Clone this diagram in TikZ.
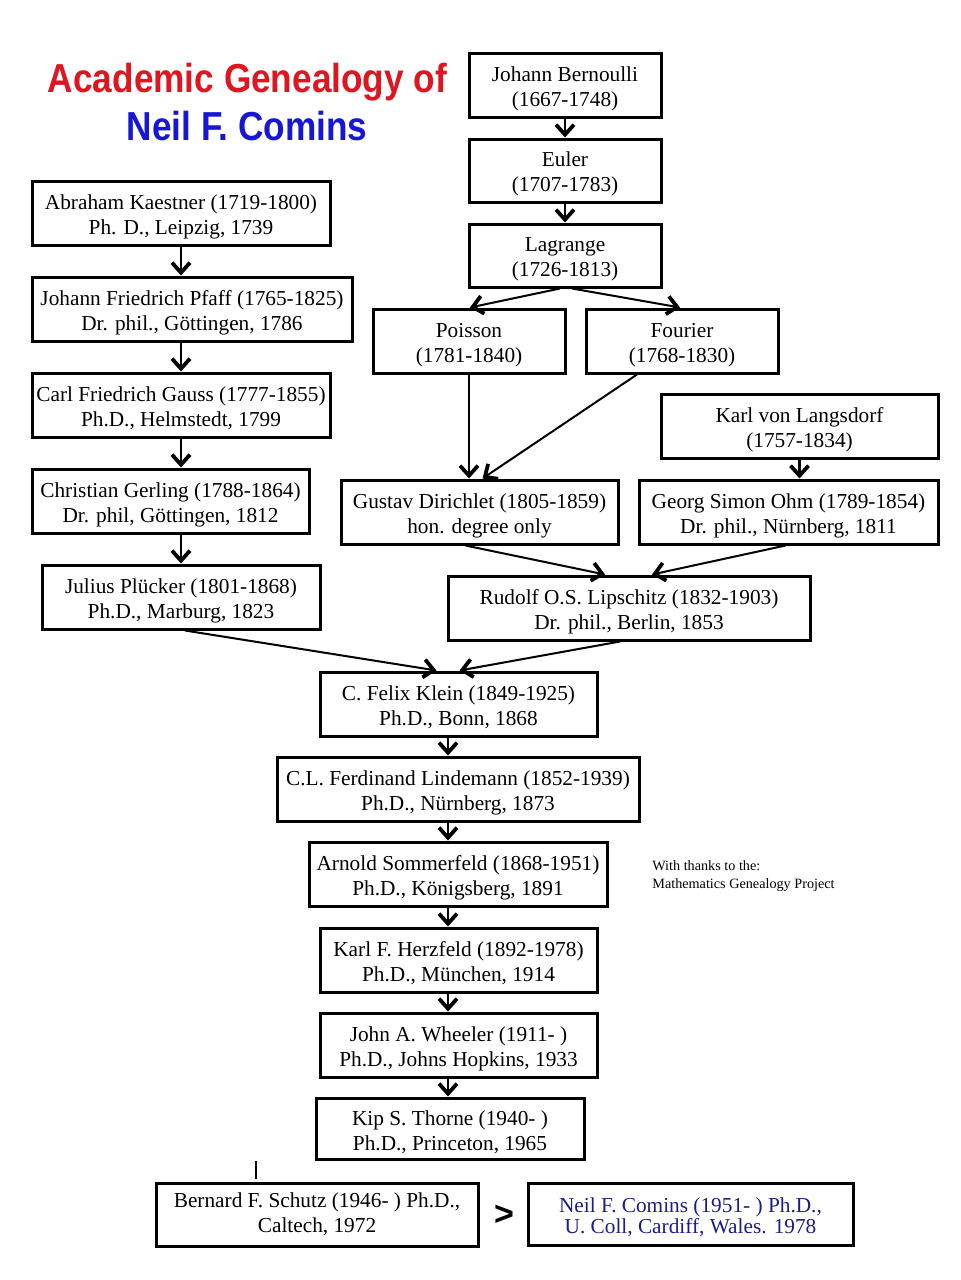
\documentclass[tikz,border=0pt]{standalone}
\usepackage{fontspec}
\setmainfont{Liberation Serif}
\newfontfamily\titlefont{Liberation Sans}
\usetikzlibrary{arrows.meta,calc}
\definecolor{titlered}{RGB}{222,22,32}
\definecolor{titleblue}{RGB}{22,22,212}
\definecolor{navy}{RGB}{28,28,140}
\newcommand\twoline[2]{\rule{0pt}{11pt}#1\\#2}
\begin{document}
\begin{tikzpicture}[x=0.5pt,y=-0.5pt,
  box/.style={draw, line width=1.5pt, align=center, inner sep=0pt,
    font=\fontsize{10.65}{12.5}\selectfont, minimum height=32pt},
  arr/.style={-{Straight Barb[length=5pt,width=9pt,line width=1.9pt]}, line width=1.3pt},
  darr/.style={-{Straight Barb[length=5pt,width=9pt,line width=1.9pt]}, line width=1pt},
  titletext/.style={font=\titlefont\bfseries\fontsize{17.6}{20.5}\selectfont, inner sep=0pt, anchor=base}
]
\useasboundingbox (0,0) rectangle (960,1280);
\fill[white] (0,0) rectangle (960,1280);

% title
\node[titletext, text=titlered] (title1) at (247.5,92) {\scalebox{1}[1.15]{Academic Genealogy of}};
\node[titletext, text=titleblue] (title2) at (247,140) {\scalebox{1}[1.15]{Neil F. Comins}};

% right upper chain
\node[box, minimum width=96pt] (bern) at (565,85) {\twoline{Johann Bernoulli}{(1667-1748)}};
\node[box, minimum width=96pt, minimum height=31.5pt] (euler) at (565,170.5) {\twoline{Euler}{(1707-1783)}};
\node[box, minimum width=96pt, minimum height=31.5pt] (lag) at (565,255.5) {\twoline{Lagrange}{(1726-1813)}};
\node[box, minimum width=96pt] (poisson) at (469,341) {\twoline{Poisson}{(1781-1840)}};
\node[box, minimum width=96pt] (fourier) at (682,341) {\twoline{Fourier}{(1768-1830)}};
\node[box, minimum width=138.5pt] (langs) at (799.5,426) {\twoline{Karl von Langsdorf}{(1757-1834)}};
\node[box, minimum width=138.5pt] (dirichlet) at (479.5,512) {\twoline{Gustav Dirichlet (1805-1859)}{hon. degree only}};
\node[box, minimum width=149.5pt] (ohm) at (788.5,512) {\twoline{Georg Simon Ohm (1789-1854)}{Dr. phil., Nürnberg, 1811}};
\node[box, minimum width=181pt] (lipschitz) at (629,608) {\twoline{Rudolf O.S. Lipschitz (1832-1903)}{Dr. phil., Berlin, 1853}};

% left chain
\node[box, minimum width=149pt] (kaestner) at (181,213) {\twoline{Abraham Kaestner (1719-1800)}{Ph. D., Leipzig, 1739}};
\node[box, minimum width=160pt] (pfaff) at (192,309) {\twoline{Johann Friedrich Pfaff (1765-1825)}{Dr. phil., Göttingen, 1786}};
\node[box, minimum width=149pt] (gauss) at (181,405) {\twoline{Carl Friedrich Gauss (1777-1855)}{Ph.D., Helmstedt, 1799}};
\node[box, minimum width=138.5pt] (gerling) at (170.5,501) {\twoline{Christian Gerling (1788-1864)}{Dr. phil, Göttingen, 1812}};
\node[box, minimum width=139pt] (pluecker) at (181,597) {\twoline{Julius Plücker (1801-1868)}{Ph.D., Marburg, 1823}};

% central chain
\node[box, minimum width=138.5pt] (klein) at (458.5,704) {\twoline{C. Felix Klein (1849-1925)}{Ph.D., Bonn, 1868}};
\node[box, minimum width=181pt] (linde) at (458,789) {\twoline{C.L. Ferdinand Lindemann (1852-1939)}{Ph.D., Nürnberg, 1873}};
\node[box, minimum width=149pt] (sommer) at (458,874) {\twoline{Arnold Sommerfeld (1868-1951)}{Ph.D., Königsberg, 1891}};
\node[box, minimum width=138.5pt] (herz) at (458.5,960) {\twoline{Karl F. Herzfeld (1892-1978)}{Ph.D., München, 1914}};
\node[box, minimum width=138.5pt] (wheeler) at (458.5,1045) {\twoline{John A. Wheeler (1911- )}{Ph.D., Johns Hopkins, 1933}};
\node[box, minimum width=134pt, minimum height=30.5pt] (thorne) at (450,1128.5) {\twoline{Kip S. Thorne (1940- )}{Ph.D., Princeton, 1965}};
\node[box, minimum width=161pt, minimum height=31.5pt] (schutz) at (317,1214.5) {Bernard F. Schutz (1946- ) Ph.D.,\\Caltech, 1972};
\node[box, minimum width=162.5pt, minimum height=31pt, text=navy, font=\fontsize{10.65}{10.5}\selectfont] (comins) at (690.5,1214) {\twoline{Neil F. Comins (1951- ) Ph.D.,}{U. Coll, Cardiff, Wales. 1978}};

% note
\node[anchor=west, align=left, inner sep=0pt, font=\fontsize{7.1}{9}\selectfont] (thanks) at (652,876) {With thanks to the:\\Mathematics Genealogy Project};

% helper coordinates
\coordinate (xl) at (181,0);
\coordinate (xc) at (448,0);

% connectors
\draw[arr] (bern.south) -- (euler.north);
\draw[arr] (euler.south) -- (lag.north);
\draw[darr] ([xshift=-2.5pt]lag.south) -- ([xshift=0.5pt]poisson.north);
\draw[darr] ([xshift=3.5pt]lag.south) -- ([xshift=-1pt]fourier.north);
\draw[darr] (poisson.south) -- (poisson.south |- dirichlet.north);
\draw[darr] ([xshift=-22.5pt]fourier.south) -- ([xshift=1.5pt]dirichlet.north);
\draw[arr] (langs.south) -- (langs.south |- ohm.north);
\draw[darr] ([xshift=-7pt]dirichlet.south) -- ([xshift=-12pt]lipschitz.north);
\draw[darr] ([xshift=-1.5pt]ohm.south) -- ([xshift=11.5pt]lipschitz.north);

\draw[arr] (kaestner.south -| xl) -- (pfaff.north -| xl);
\draw[arr] (pfaff.south -| xl) -- (gauss.north -| xl);
\draw[arr] (gauss.south -| xl) -- (gerling.north -| xl);
\draw[arr] (gerling.south -| xl) -- (pluecker.north -| xl);

\draw[darr] ([xshift=2pt]pluecker.south) -- ([xshift=-11pt]klein.north);
\draw[darr] ([xshift=-4.5pt]lipschitz.south) -- ([xshift=0.5pt]klein.north);

\draw[arr] (klein.south -| xc) -- (linde.north -| xc);
\draw[arr] (linde.south -| xc) -- (sommer.north -| xc);
\draw[arr] (sommer.south -| xc) -- (herz.north -| xc);
\draw[arr] (herz.south -| xc) -- (wheeler.north -| xc);
\draw[arr] (wheeler.south -| xc) -- (thorne.north -| xc);

% tick above Schutz
\coordinate (tick) at (256,1161);
\draw[line width=1.4pt] (tick) -- ($(tick |- schutz.north)+(0,-3)$);

% chevron between Schutz and Comins
\node[inner sep=0pt, font=\titlefont\bfseries\fontsize{17}{17}\selectfont] (chev) at (504,1215) {>};
\end{tikzpicture}
\end{document}
